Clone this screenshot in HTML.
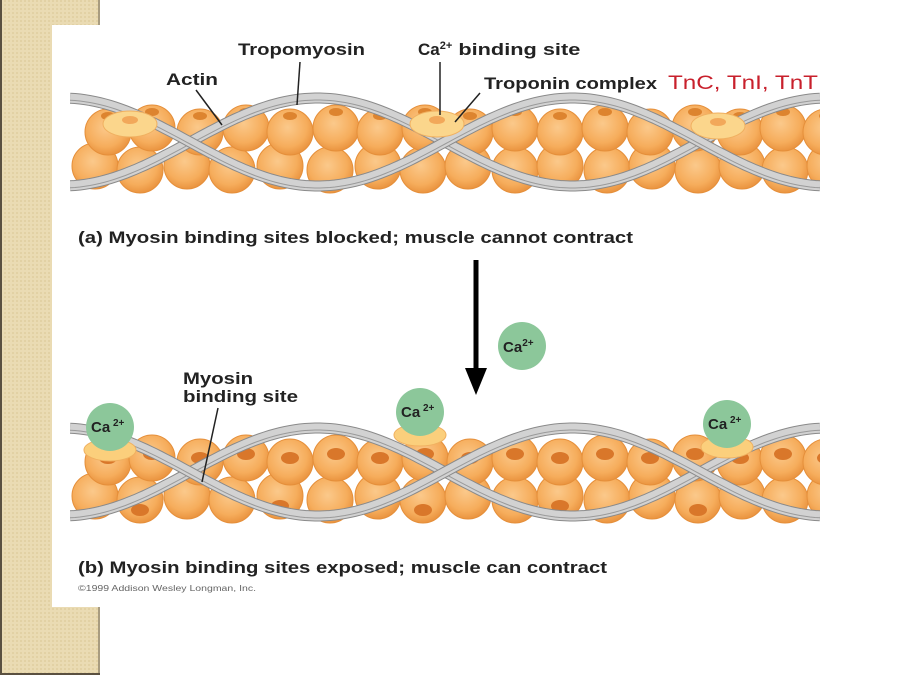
<!DOCTYPE html>
<html><head><meta charset="utf-8"><style>
html,body{margin:0;padding:0;width:900px;height:675px;overflow:hidden;background:#fff}
svg{display:block}
text{font-family:"Liberation Sans",Arial,sans-serif}
</style></head><body>
<svg id="s" width="900" height="675" viewBox="0 0 900 675" xmlns="http://www.w3.org/2000/svg">
<defs>
<radialGradient id="bg" cx="45%" cy="40%" r="60%">
<stop offset="0" stop-color="#fbc98b"/><stop offset="0.7" stop-color="#f6ad5c"/><stop offset="1" stop-color="#ea9440"/>
</radialGradient>
<pattern id="dots" width="4" height="4" patternUnits="userSpaceOnUse">
<rect width="4" height="4" fill="#eadbb3"/><rect width="2" height="2" fill="#e2d1a4"/>
</pattern>
<clipPath id="cp"><rect x="70" y="0" width="750" height="675"/></clipPath>
</defs>
<rect x="0" y="0" width="100" height="675" fill="url(#dots)"/>
<rect x="0" y="0" width="2" height="675" fill="#5a5040"/>
<rect x="98" y="0" width="2" height="675" fill="#a89c80"/>
<rect x="0" y="673" width="100" height="2" fill="#5a5040"/>
<rect x="52" y="25" width="848" height="582" fill="#fff"/>
<g clip-path="url(#cp)"><g id="beads"></g><g id="strands"></g></g>
<g id="extra"></g>
<g fill="#222" font-weight="bold" font-size="17">
<text x="238" y="55" textLength="127" lengthAdjust="spacingAndGlyphs">Tropomyosin</text>
<text x="418" y="55">Ca<tspan font-size="11" dy="-6">2+</tspan><tspan dy="6" textLength="128" lengthAdjust="spacingAndGlyphs"> binding site</tspan></text>
<text x="166" y="85" textLength="52" lengthAdjust="spacingAndGlyphs">Actin</text>
<text x="484" y="89" textLength="173" lengthAdjust="spacingAndGlyphs">Troponin complex</text>
<text x="78" y="243" textLength="555" lengthAdjust="spacingAndGlyphs">(a) Myosin binding sites blocked; muscle cannot contract</text>
<text x="183" y="384" textLength="70" lengthAdjust="spacingAndGlyphs">Myosin</text>
<text x="183" y="402" textLength="115" lengthAdjust="spacingAndGlyphs">binding site</text>
<text x="78" y="573" textLength="529" lengthAdjust="spacingAndGlyphs">(b) Myosin binding sites exposed; muscle can contract</text>
</g>
<text x="668" y="89" fill="#c8202c" font-size="19" textLength="150" lengthAdjust="spacingAndGlyphs">TnC, TnI, TnT</text>
<text x="78" y="591" fill="#666" font-size="8" textLength="178" lengthAdjust="spacingAndGlyphs">©1999 Addison Wesley Longman, Inc.</text>
<g stroke="#222" stroke-width="1.5">
<line x1="196" y1="90" x2="222" y2="125"/>
<line x1="300" y1="62" x2="297" y2="105"/>
<line x1="440" y1="62" x2="440" y2="115"/>
<line x1="480" y1="93" x2="455" y2="122"/>
<line x1="218" y1="408" x2="202" y2="482"/>
</g>
<line x1="476" y1="260" x2="476" y2="370" stroke="#000" stroke-width="5"/>
<polygon points="465,368 487,368 476,395" fill="#000"/>
<circle cx="522" cy="346" r="24" fill="#8cc79a"/>
<text x="503" y="352" font-size="15" font-weight="bold" fill="#222">Ca<tspan font-size="10" dy="-6">2+</tspan></text>
</svg>
<script>
const NS="http://www.w3.org/2000/svg";
function el(p,t,a){const e=document.createElementNS(NS,t);for(const k in a)e.setAttribute(k,a[k]);p.appendChild(e);return e;}
const B=document.getElementById('beads'),S=document.getElementById('strands'),X=document.getElementById('extra');
function panel(off,dots){
  const bot=[95,140,187,232,280,330,378,423,468,515,560,607,652,698,742,785,830];
  const top=[108,152,200,246,290,336,380,425,470,515,560,605,650,695,740,783,826];
  bot.forEach((x,i)=>{const y=168+off+(i%2?2:-2);el(B,'circle',{cx:x,cy:y,r:23,fill:'url(#bg)',stroke:'#e58f3a','stroke-width':1});
    if(dots&&i%3==1)el(B,'ellipse',{cx:x,cy:y+10,rx:9,ry:6,fill:'#d9772a'});});
  top.forEach((x,i)=>{const y=130+off+(i%2?-2:2);el(B,'circle',{cx:x,cy:y,r:23,fill:'url(#bg)',stroke:'#e58f3a','stroke-width':1});
    if(dots)el(B,'ellipse',{cx:x,cy:y-4,rx:9,ry:6,fill:'#d9772a'});
    else el(B,'ellipse',{cx:x,cy:y-16,rx:7,ry:4,fill:'#dd842f'});});
  [1,-1].forEach(sg=>{let d='';for(let x=70;x<=820;x+=5){const y=142+off-sg*44*Math.sin(Math.PI*(x-190)/255);d+=(x==70?'M':'L')+x+','+y.toFixed(1);}
    el(S,'path',{d:d,fill:'none',stroke:'#8a8a8a','stroke-width':11});
    el(S,'path',{d:d,fill:'none',stroke:'#d2d2d2','stroke-width':9});
    el(S,'path',{d:d,fill:'none',stroke:'#9a9a9a','stroke-width':1,transform:'translate(0,2)'});});
}
panel(0,false);panel(330,true);
[[130,124],[437,124],[718,126]].forEach(p=>{el(X,'ellipse',{cx:p[0],cy:p[1],rx:27,ry:13,fill:'#fbd68c',stroke:'#f0b060'});el(X,'ellipse',{cx:p[0],cy:p[1]-4,rx:8,ry:4,fill:'#f2a85a'});});
[[110,450,427],[420,435,412],[727,447,424]].forEach(p=>{el(X,'ellipse',{cx:p[0],cy:p[1],rx:26,ry:11,fill:'#fbcf7c',stroke:'#f0b060'});
  el(X,'circle',{cx:p[0],cy:p[2],r:24,fill:'#8cc79a'});
  const t=el(X,'text',{x:p[0]-19,y:p[2]+5,'font-size':15,'font-weight':'bold',fill:'#222'});t.textContent='Ca';
  const s=el(X,'text',{x:p[0]+3,y:p[2]-1,'font-size':10,'font-weight':'bold',fill:'#222'});s.textContent='2+';});
</script>
</body></html>
